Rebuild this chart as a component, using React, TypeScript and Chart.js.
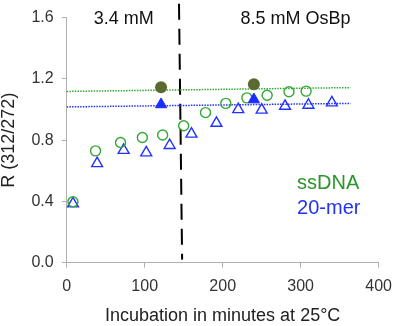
import React, { useEffect, useRef } from "react";
import { Chart, registerables } from "chart.js";

Chart.register(...registerables);

// ---- data ----
const ssTimes = [8, 37, 69, 97, 123, 150, 178, 204, 231, 257, 285, 307];
const ssValues = [0.398, 0.73, 0.785, 0.817, 0.834, 0.894, 0.98, 1.04, 1.076, 1.093, 1.116, 1.12];

const merTimes = [8, 39, 73, 102, 132, 160, 192, 220, 250, 280, 310, 340];
const merValues = [0.385, 0.648, 0.734, 0.718, 0.766, 0.84, 0.911, 1.0, 0.997, 1.022, 1.029, 1.044];

const ssRefTimes = [121, 240];
const ssRefValues = [1.146, 1.165];
const merRefTimes = [121, 240];
const merRefValues = [1.033, 1.065];

const ssLineTimes = [0, 364];
const ssLineValues = [1.118, 1.143];
const merLineTimes = [0, 364];
const merLineValues = [1.017, 1.04];

const splitTimes = [144, 148];
const splitValues = [1.69, 0.02];

const xTicks = [0, 100, 200, 300, 400];
const yTicks = [0.0, 0.4, 0.8, 1.2, 1.6];

const annoTexts = ["3.4 mM", "8.5 mM OsBp", "ssDNA", "20-mer"];
const annoX = [73, 293.5, 295.4, 295.4];
const annoY = [1.59, 1.59, 0.518, 0.357];
const annoAlign = ["center", "center", "left", "left"];
const annoColor = ["#111111", "#111111", "#2a962a", "#2233ee"];
const annoSize = [18, 18, 20, 20];

const FONT = "'Liberation Sans', Arial, Helvetica, sans-serif";

const GREEN = "#33a833";
const BLUE = "#2233ff";

const pts = (xs: number[], ys: number[]) => xs.map((x, i) => ({ x, y: ys[i] }));

const annotationPlugin = {
  id: "annos",
  afterDatasetsDraw(chart: any) {
    const { ctx, scales } = chart;
    ctx.save();
    annoTexts.forEach((t, i) => {
      ctx.font = `${annoSize[i]}px ${FONT}`;
      ctx.fillStyle = annoColor[i];
      ctx.textAlign = annoAlign[i];
      ctx.textBaseline = "middle";
      ctx.fillText(t, scales.x.getPixelForValue(annoX[i]), scales.y.getPixelForValue(annoY[i]));
    });
    ctx.restore();
  },
};

export default function App() {
  const ref = useRef<HTMLCanvasElement | null>(null);
  useEffect(() => {
    if (!ref.current) return;
    const chart = new Chart(ref.current, {
      type: "scatter",
      data: {
        datasets: [
          {
            data: pts(ssRefTimes, ssRefValues),
            pointStyle: "circle",
            pointRadius: 6,
            backgroundColor: "#5b6a30",
            borderColor: "#5b6a30",
            borderWidth: 0,
          },
          {
            data: pts(merRefTimes, merRefValues),
            pointStyle: "triangle",
            pointRadius: 6.5,
            backgroundColor: "#1a2dff",
            borderColor: "#1a2dff",
            borderWidth: 1,
          },
          {
            data: pts(ssTimes, ssValues),
            pointStyle: "circle",
            pointRadius: 5,
            backgroundColor: "rgba(0,0,0,0)",
            borderColor: GREEN,
            borderWidth: 1.4,
          },
          {
            data: pts(merTimes, merValues),
            pointStyle: "triangle",
            pointRadius: 6.3,
            backgroundColor: "rgba(0,0,0,0)",
            borderColor: BLUE,
            borderWidth: 1.4,
          },
          {
            type: "line",
            data: pts(ssLineTimes, ssLineValues),
            borderColor: GREEN,
            borderWidth: 1.5,
            borderDash: [1.5, 1.2],
            pointRadius: 0,
          },
          {
            type: "line",
            data: pts(merLineTimes, merLineValues),
            borderColor: BLUE,
            borderWidth: 1.5,
            borderDash: [1.5, 1.2],
            pointRadius: 0,
          },
          {
            type: "line",
            data: pts(splitTimes, splitValues),
            borderColor: "#000000",
            borderWidth: 2,
            borderDash: [16, 9],
            pointRadius: 0,
            clip: false,
          },
        ] as any,
      },
      options: {
        animation: false,
        responsive: false,
        events: [],
        layout: { padding: { top: 13.3, right: 14.3, left: 0, bottom: 0 } },
        plugins: { legend: { display: false }, tooltip: { enabled: false } },
        scales: {
          x: {
            type: "linear",
            min: 0,
            max: 400,
            afterBuildTicks: (s: any) => {
              s.ticks = xTicks.map((v) => ({ value: v }));
            },
            afterFit: (s: any) => {
              s.height = 63.3;
            },
            border: { display: true, color: "#b0b0b0", width: 1 },
            grid: { drawOnChartArea: false, drawTicks: true, tickLength: 5, color: "#b0b0b0" },
            ticks: { color: "#333333", font: { family: FONT, size: 16 }, padding: 9, maxRotation: 0 },
            title: {
              display: true,
              text: "Incubation in minutes at 25°C",
              color: "#222222",
              font: { family: FONT, size: 18, lineHeight: 1 },
              padding: { top: 0, bottom: 1 },
            },
          },
          y: {
            type: "linear",
            min: 0,
            max: 1.6,
            afterBuildTicks: (s: any) => {
              s.ticks = yTicks.map((v) => ({ value: v }));
            },
            afterFit: (s: any) => {
              s.width = 66.7;
            },
            border: { display: true, color: "#b0b0b0", width: 1 },
            grid: { drawOnChartArea: false, drawTicks: true, tickLength: 5, color: "#b0b0b0" },
            ticks: {
              color: "#333333",
              font: { family: FONT, size: 16 },
              padding: 8,
              callback: (v: any) => Number(v).toFixed(1),
            },
            title: {
              display: true,
              text: "R (312/272)",
              color: "#222222",
              font: { family: FONT, size: 18, lineHeight: 1 },
              padding: { top: 0, bottom: 0 },
            },
          },
        },
      } as any,
      plugins: [annotationPlugin],
    });
    return () => chart.destroy();
  }, []);
  return (
    <div style={{ position: "fixed", left: 0, top: 0, width: 401, height: 326, background: "#fff" }}>
      <canvas ref={ref} width={401} height={326} style={{ display: "block" }} />
    </div>
  );
}
